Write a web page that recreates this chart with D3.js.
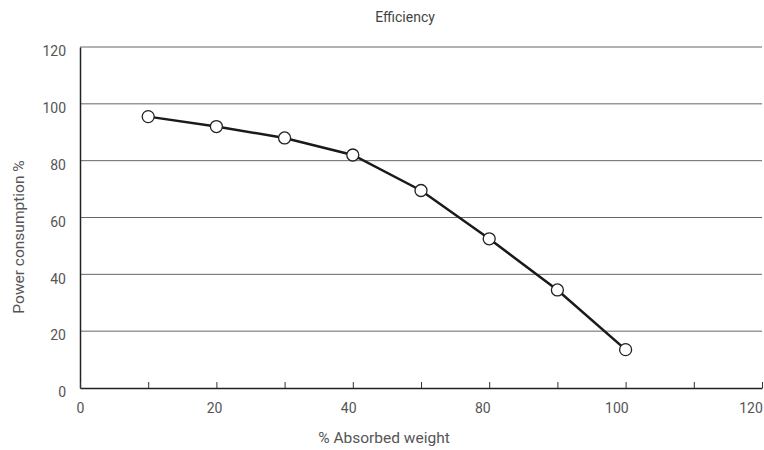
<!DOCTYPE html>
<html>
<head>
<meta charset="utf-8">
<script src="https://cdn.jsdelivr.net/npm/d3@7"></script>
<style>
  body { margin: 0; background: #fff; }
  text { font-family: "Roboto", "DejaVu Sans Condensed", sans-serif; fill: #555; }
</style>
</head>
<body>
<svg width="764" height="450"></svg>
<script>
// data
var xTickValues = [0, 20, 40, 80, 100, 120];
var xMinorTicks = [10, 30, 60, 90, 110];
var yTickValues = [0, 20, 40, 60, 80, 100, 120];
var absorbedWeight = [10, 20, 30, 40, 60, 80, 90, 100];
var powerConsumption = [95.5, 92, 88, 82, 69.5, 52.5, 34.5, 13.5];

var svg = d3.select('svg');
var padding = {t: 47, r: 2, b: 62, l: 80};
var width = +svg.attr('width') - padding.l - padding.r;
var height = +svg.attr('height') - padding.t - padding.b;

var g = svg.append('g')
    .attr('transform', 'translate(' + [padding.l, padding.t] + ')');

// labelled ticks are equally spaced, so use a polylinear scale
var xScale = d3.scaleLinear()
    .domain(xTickValues)
    .range(xTickValues.map(function(d, i) { return i * width / (xTickValues.length - 1); }));

var yScale = d3.scaleLinear()
    .domain([0, 120])
    .range([height, 0]);

// horizontal grid lines
g.selectAll('.grid')
    .data(yTickValues.slice(1))
    .enter()
    .append('line')
    .attr('class', 'grid')
    .attr('x1', 0)
    .attr('x2', width)
    .attr('y1', d => yScale(d))
    .attr('y2', d => yScale(d))
    .style('stroke', '#666')
    .style('stroke-width', 1);

// y axis
var yAxis = d3.axisLeft(yScale).tickValues(yTickValues).tickSize(0).tickPadding(14);
var yG = g.append('g').call(yAxis);
yG.select('.domain').style('stroke', '#222').style('stroke-width', 1.5);
yG.selectAll('text')
    .style('font-size', '14px')
    .attr('dy', '0.62em');

// x axis, small ticks pointing up
var xAxis = d3.axisBottom(xScale)
    .tickValues(xTickValues.concat(xMinorTicks))
    .tickSizeInner(-6)
    .tickSizeOuter(0)
    .tickFormat(d => xMinorTicks.indexOf(d) >= 0 ? '' : d);
var xG = g.append('g')
    .attr('transform', 'translate(0,' + height + ')')
    .call(xAxis);
xG.select('.domain').style('stroke', '#222').style('stroke-width', 1.5);
xG.selectAll('line').style('stroke', '#333').style('stroke-width', 1);
xG.selectAll('text')
    .style('font-size', '14px')
    .attr('y', 15)
    .attr('dx', d => -xTickValues.indexOf(d) * 2.3);
g.selectAll('g').attr('font-family', null);

// line and markers
var points = absorbedWeight.map((d, i) => ({x: d, y: powerConsumption[i]}));

var line = d3.line()
    .x(d => xScale(d.x))
    .y(d => yScale(d.y));

g.append('path')
    .datum(points)
    .attr('d', line)
    .style('fill', 'none')
    .style('stroke', '#1a1a1a')
    .style('stroke-width', 2.5);

g.selectAll('.dot')
    .data(points)
    .enter()
    .append('circle')
    .attr('class', 'dot')
    .attr('cx', d => xScale(d.x))
    .attr('cy', d => yScale(d.y))
    .attr('r', 6)
    .style('fill', '#fff')
    .style('stroke', '#222')
    .style('stroke-width', 1.3);

// titles
svg.append('text')
    .attr('x', 405)
    .attr('y', 22)
    .attr('text-anchor', 'middle')
    .style('font-size', '14px')
    .style('fill', '#444')
    .text('Efficiency');

svg.append('text')
    .attr('x', 384)
    .attr('y', 443)
    .attr('text-anchor', 'middle')
    .style('font-size', '15.5px')
    .text('% Absorbed weight');

svg.append('text')
    .attr('transform', 'translate(24,237) rotate(-90)')
    .attr('text-anchor', 'middle')
    .style('font-size', '15.5px')
    .text('Power consumption %');
</script>
</body>
</html>
